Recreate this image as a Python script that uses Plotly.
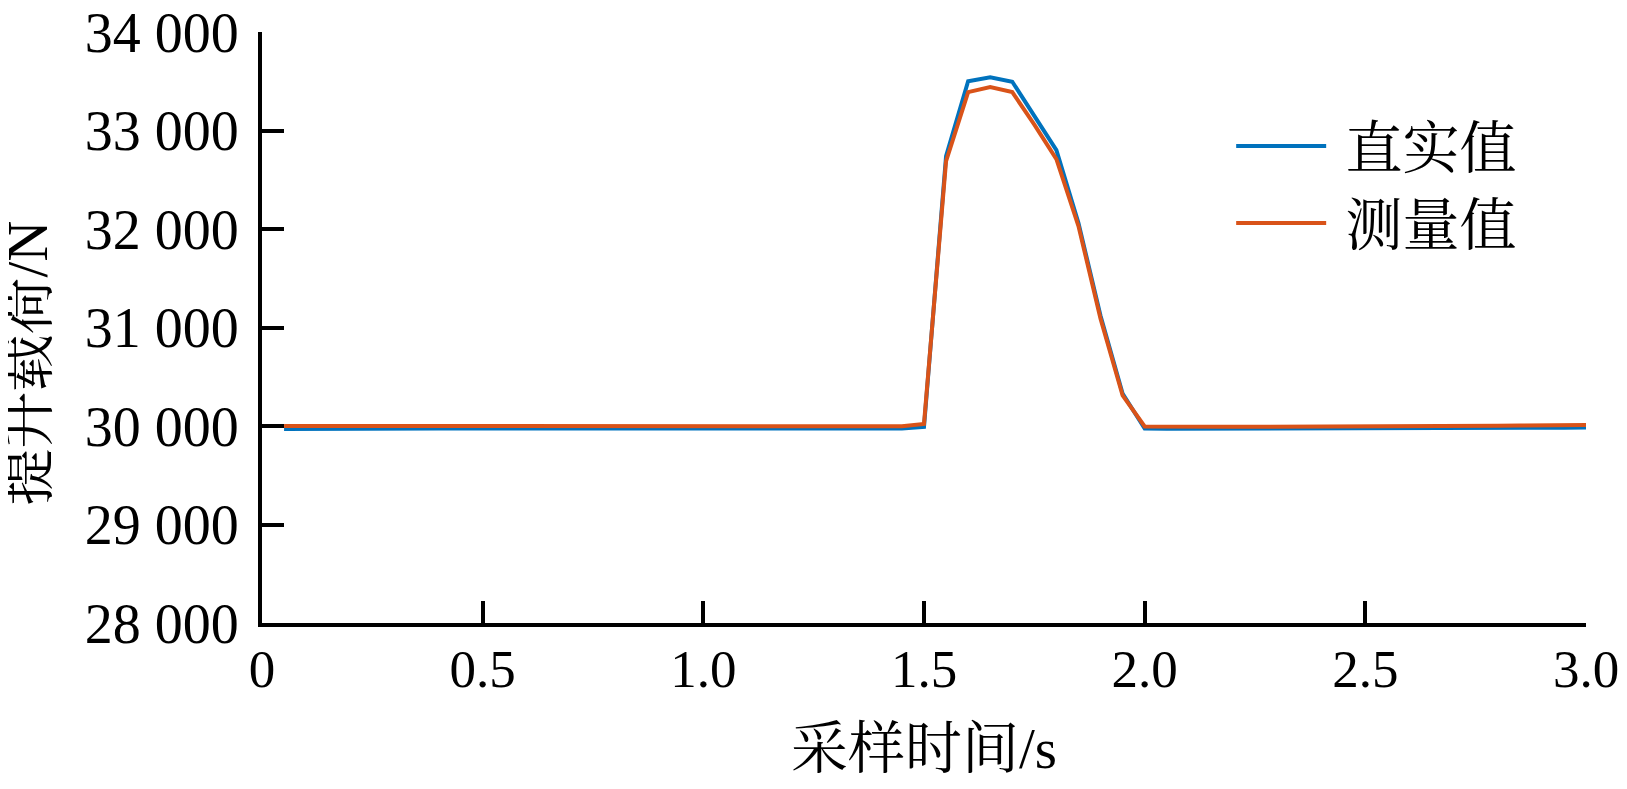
import plotly.graph_objects as go

time_s = [0.05, 0.10, 0.15, 0.20, 0.25, 0.30, 0.35, 0.40, 0.45, 0.50,
          0.55, 0.60, 0.65, 0.70, 0.75, 0.80, 0.85, 0.90, 0.95, 1.00,
          1.05, 1.10, 1.15, 1.20, 1.25, 1.30, 1.35, 1.40, 1.45, 1.50,
          1.55, 1.60, 1.65, 1.70, 1.75, 1.80, 1.85, 1.90, 1.95, 2.00,
          2.05, 2.10, 2.15, 2.20, 2.25, 2.30, 2.35, 2.40, 2.45, 2.50,
          2.55, 2.60, 2.65, 2.70, 2.75, 2.80, 2.85, 2.90, 2.95, 3.00]

true_load = [29970, 29972, 29973, 29974, 29975, 29975, 29975, 29975, 29975, 29975,
             29975, 29975, 29975, 29975, 29975, 29975, 29975, 29975, 29975, 29975,
             29975, 29975, 29975, 29974, 29974, 29973, 29973, 29973, 29975, 29990,
             32740, 33500, 33540, 33495, 33150, 32800, 32060, 31120, 30330, 29975,
             29972, 29972, 29972, 29972, 29972, 29972, 29973, 29973, 29974, 29975,
             29975, 29976, 29977, 29978, 29979, 29980, 29981, 29982, 29983, 29984]

measured_load = [30000, 30000, 30000, 30000, 29999, 29999, 29998, 29998, 29998, 29998,
                 29998, 29998, 29998, 29997, 29997, 29997, 29997, 29997, 29997, 29997,
                 29997, 29996, 29996, 29995, 29995, 29995, 29995, 29996, 29998, 30020,
                 32690, 33390, 33440, 33390, 33060, 32710, 32030, 31090, 30310, 29995,
                 29992, 29992, 29992, 29992, 29992, 29992, 29993, 29993, 29994, 29995,
                 29996, 29997, 29998, 29999, 30000, 30002, 30004, 30006, 30008, 30010]

x_ticks = [0, 0.5, 1.0, 1.5, 2.0, 2.5, 3.0]
x_tick_text = ["0", "0.5", "1.0", "1.5", "2.0", "2.5", "3.0"]
y_ticks = [28000, 29000, 30000, 31000, 32000, 33000, 34000]
y_tick_text = ["28 000", "29 000", "30 000", "31 000", "32 000", "33 000", "34 000"]

series_names = ["直实值", "测量值"]
x_title = "采样时间/s"
y_title = "提升载荷/N"

FONT = "Liberation Serif, Times New Roman, Noto Serif CJK SC, Noto Sans CJK SC, serif"

fig = go.Figure()
fig.add_trace(go.Scatter(x=time_s, y=true_load, mode="lines", name="\u00a0" + series_names[0],
                         line=dict(color="#0072BD", width=4)))
fig.add_trace(go.Scatter(x=time_s, y=measured_load, mode="lines", name="\u00a0" + series_names[1],
                         line=dict(color="#D95319", width=4)))

fig.update_layout(
    width=1611, height=773,
    margin=dict(l=254, r=33, t=24, b=158, autoexpand=False),
    paper_bgcolor="white", plot_bgcolor="white",
    font=dict(family=FONT, size=56, color="black"),
    showlegend=True,
    legend=dict(x=0.732, y=0.881, xanchor="left", yanchor="top",
                bgcolor="rgba(0,0,0,0)", font=dict(size=57, family=FONT),
                itemwidth=90, tracegroupgap=0),
    xaxis=dict(range=[0, 3.0], tickvals=x_ticks, ticktext=x_tick_text,
               showline=True, linecolor="black", linewidth=4,
               ticks="inside", ticklen=22, tickwidth=4, tickcolor="black",
               showgrid=False, zeroline=False, mirror=False, automargin=False,
               tickfont=dict(size=53), ticklabelstandoff=-4,
               ticklabeloverflow="allow"),
    yaxis=dict(range=[28000, 34000], tickvals=y_ticks, ticktext=y_tick_text,
               showline=True, linecolor="black", linewidth=4,
               ticks="inside", ticklen=22, tickwidth=4, tickcolor="black",
               showgrid=False, zeroline=False, mirror=False, automargin=False,
               tickfont=dict(size=56), ticklabelstandoff=8,
               ticklabeloverflow="allow"),
    annotations=[
        dict(text=y_title, xref="paper", yref="paper",
             x=-0.177, y=0.44, textangle=-90, showarrow=False,
             xanchor="center", yanchor="middle",
             font=dict(size=57, family=FONT)),
        dict(text=x_title, xref="paper", yref="paper",
             x=0.5, y=-0.212, showarrow=False,
             xanchor="center", yanchor="middle",
             font=dict(size=57, family=FONT)),
    ],
)

fig.write_html("out.html")
